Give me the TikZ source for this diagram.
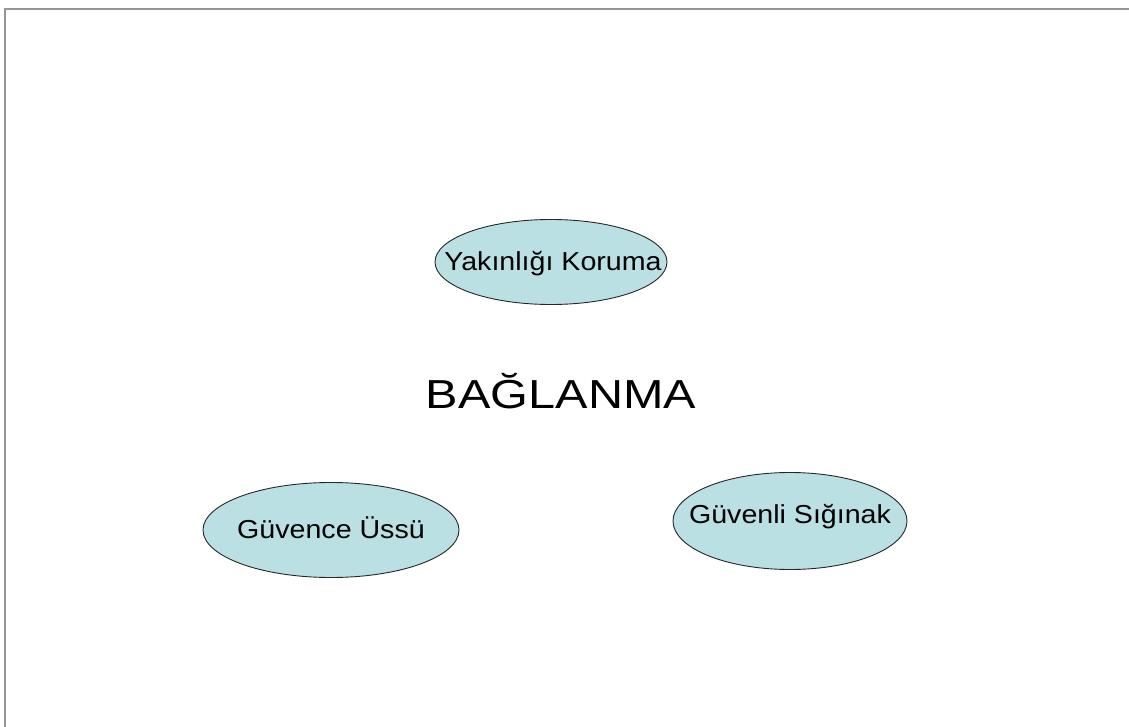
\documentclass[tikz,border=0pt]{standalone}
\usepackage{fontspec}
\setmainfont{Liberation Sans}
\newfontfamily\smallwide[FakeStretch=1.1]{Liberation Sans}
\newfontfamily\bigwide[FakeStretch=1.2]{Liberation Sans}
\usetikzlibrary{shapes.geometric}
\definecolor{ovalfill}{RGB}{187,224,227}
\definecolor{framegray}{RGB}{150,150,150}
\tikzset{
  oval/.style={ellipse, draw=black!85, line width=0.9pt, fill=ovalfill, inner sep=0pt},
  ovaltext/.style={anchor=base, inner sep=0pt, font=\smallwide\fontsize{26}{30}\selectfont},
  titletext/.style={anchor=base, inner sep=0pt, font=\bigwide\fontsize{40.5}{48}\selectfont},
}
\begin{document}
\begin{tikzpicture}[x=1pt, y=-1pt]
  \useasboundingbox (0,0) rectangle (1129,727);
  % slide frame (top and left edges)
  \draw[framegray, line width=2.4pt] (5,727) -- (5,9) -- (1129,9);

  % title
  \node[titletext] (title) at (561,408) {BAĞLANMA};

  % the three ovals
  \node[oval, minimum width=232pt, minimum height=85pt] (yk) at (551,262) {};
  \node[ovaltext] (ykt) at (553,271) {Yakınlığı Koruma};

  \node[oval, minimum width=256pt, minimum height=95pt] (gu) at (331,530) {};
  \node[ovaltext] (gut) at (331,538) {Güvence Üssü};

  \node[oval, minimum width=234pt, minimum height=97pt] (gs) at (790,521) {};
  \node[ovaltext] (gst) at (790,523) {Güvenli Sığınak};
\end{tikzpicture}
\end{document}
